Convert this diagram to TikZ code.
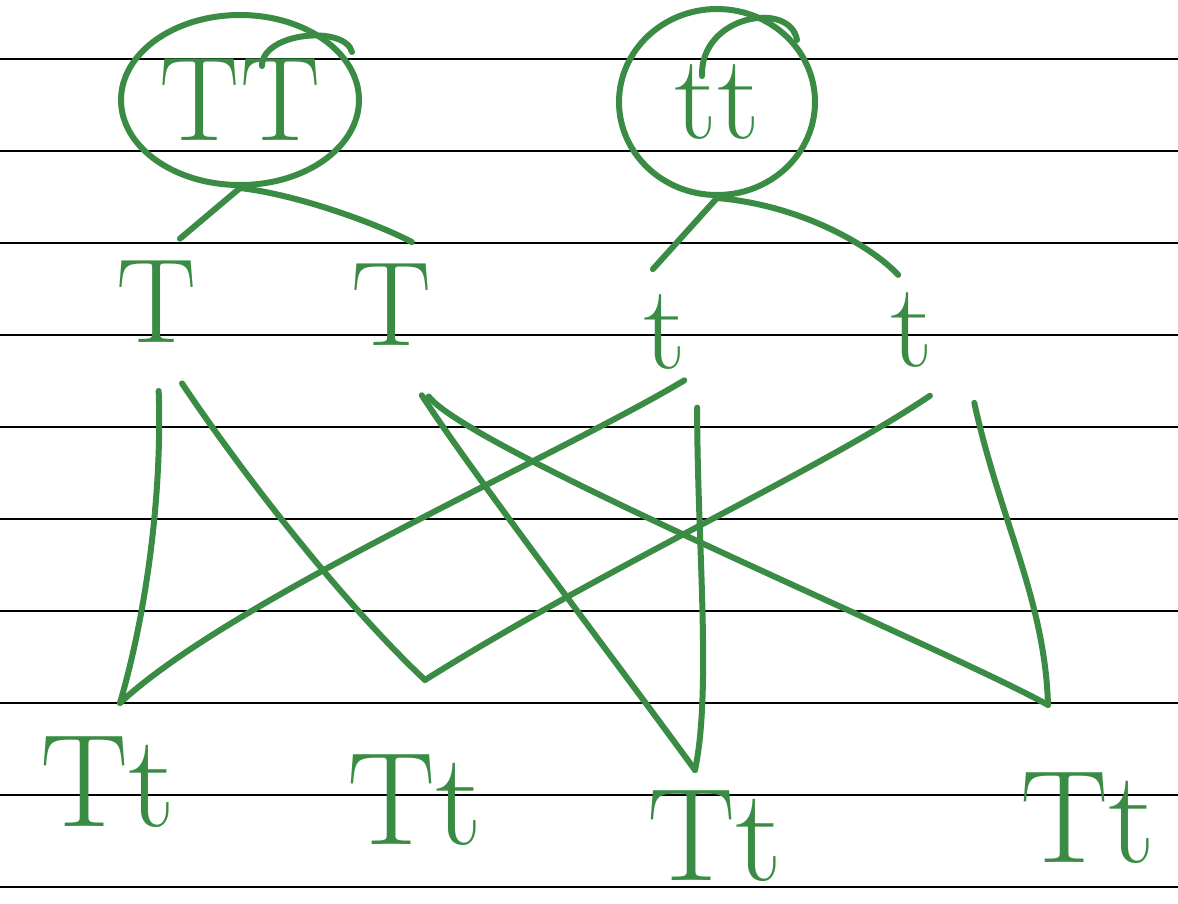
\documentclass[tikz,border=0pt]{standalone}
\usepackage{fontspec}
\usetikzlibrary{shapes.geometric}
\definecolor{ink}{HTML}{3A8B44}
\tikzset{rule/.style={draw=black,line width=1.3pt},
  pen/.style={draw=ink,line width=6pt,line cap=round,line join=round},
  letter/.style={text=ink,font=\fontsize{120}{120}\selectfont,inner sep=3pt},
  ring/.style={letter,pen,ellipse,inner sep=0pt},
  gamete/.style={letter,minimum width=110pt},
  offspring/.style={letter,font=\fontsize{132}{132}\selectfont}}

\begin{document}
\begin{tikzpicture}[x=1pt,y=-1pt]
\useasboundingbox(0,0)rectangle(1178,903);
\foreach \y in {59,151,...,887}\draw[rule](0,\y)--(1178,\y);
% parents
\node[ring,minimum width=238pt,minimum height=170pt](TT)at(240,100){TT};
\node[ring,minimum width=196pt,minimum height=186pt](tt)at(717,102){tt};
\draw[pen](262,66)..controls(262,32)and(345,25)..(352,52);
\draw[pen](702,76)..controls(700,15)and(790,0)..(797,40);
% gametes
\node[gamete](T1)at(157,302){T};\node[gamete](T2)at(392,305){T};
\node[letter,minimum width=64pt](t1)at(665,332){t};\node[gamete](t2)at(912,330){t};
\draw[pen,shorten >=30pt](TT.south)--(T1.north);
\draw[pen,shorten >=40pt](TT.south)..controls(300,195)and(380,225)..(T2.north east);
\draw[pen,shorten >=30pt](tt.south)--(t1.north west);
\draw[pen,shorten >=20pt](tt.south)..controls(800,205)and(870,245)..(t2.north);
% offspring
\node[offspring](Tt1)at(108,782){Tt};\node[offspring](Tt2)at(415,800){Tt};
\node[offspring](Tt3)at(715,836){Tt};\node[offspring](Tt4)at(1088,818){Tt};
\coordinate(v1)at(120,703);\coordinate(v2)at(425,680);
\coordinate(v3)at(695,770);\coordinate(v4)at(1048,705);
\draw[pen,shorten <=45pt](T1.south)..controls(162,480)and(150,600)..(v1);
\draw[pen,shorten <=45pt](T1.south)..controls(240,470)and(340,600)..(v2);
\draw[pen,shorten <=55pt](T2.south)..controls(470,470)and(600,640)..(v3);
\draw[pen,shorten <=60pt](T2.south)..controls(470,450)and(950,650)..(v4);
\draw[pen,shorten <=15pt](t1.south east)..controls(560,455)and(230,600)..(v1);
\draw[pen,shorten <=35pt](t1.south east)..controls(697,540)and(712,690)..(v3);
\draw[pen,shorten <=45pt](t2.south east)..controls(820,470)and(600,570)..(v2);
\draw[pen,shorten <=33pt](t2.south east)..controls(1000,520)and(1045,600)..(v4);
\end{tikzpicture}
\end{document}
